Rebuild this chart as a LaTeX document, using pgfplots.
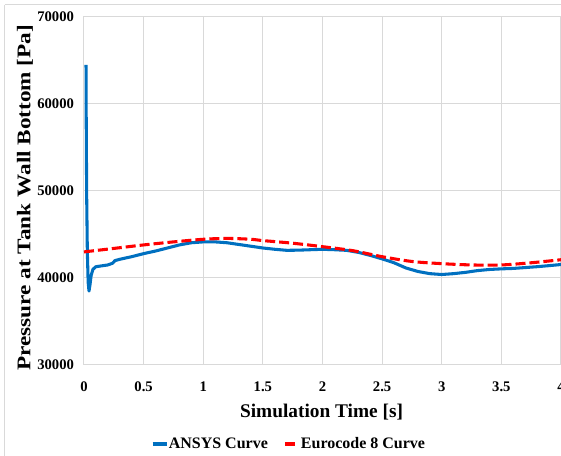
\documentclass[border=0pt]{standalone}
\usepackage{fontspec}
\setmainfont{Liberation Serif}
\usepackage{graphicx}
\usepackage{pgfplots}
\pgfplotsset{compat=1.18}
\definecolor{ansys}{HTML}{0070C0}
\definecolor{euro}{HTML}{FF0000}
\definecolor{gridc}{HTML}{D9D9D9}
\begin{document}
\begin{tikzpicture}
\begin{axis}[
  at={(0,0)}, anchor=south west,
  scale only axis, width=357.75pt, height=261pt,
  xmin=0, xmax=4, ymin=30000, ymax=70000,
  scaled y ticks=false, scaled x ticks=false,
  xtick={0,0.5,...,4}, ytick={30000,40000,...,70000},
  xticklabels={0,0.5,1,1.5,2,2.5,3,3.5,4},
  yticklabels={30000,40000,50000,60000,70000},
  grid=major, major grid style={draw=gridc, line width=0.75pt},
  axis line style={draw=gridc, line width=0.75pt},
  major tick length=0pt,
  tick label style={font=\fontsize{11}{13}\selectfont\bfseries},
  /pgf/number format/assume math mode=true,
  xticklabel style={yshift=-9pt},
  yticklabel style={xshift=-4pt},
  xlabel={Simulation Time [s]},
  ylabel={\scalebox{1.2}[1]{Pressure at Tank Wall Bottom [Pa]}},
  label style={font=\fontsize{14.5}{17}\selectfont\bfseries},
  xlabel style={at={(axis description cs:0.498,-0.135)}, anchor=center},
  ylabel style={at={(axis description cs:-0.1237,0.481)}, anchor=center, rotate=0},
  legend columns=2,
  legend style={draw=none, fill=none, at={(axis description cs:0.14,-0.227)}, anchor=west,
    font=\fontsize{12}{14}\selectfont\bfseries, inner sep=0pt,
    /tikz/every even column/.style={column sep=11pt},
    nodes={inner sep=0.5pt}},
  legend image code/.code={\draw[#1] (0pt,0pt) -- (10.5pt,0pt);},
  clip=true,
]
\addplot[ansys, line width=2.3pt, line join=round] coordinates {
(0.017,64500) (0.018,60000) (0.022,50000) (0.028,43000) (0.035,39500)
(0.042,38500) (0.05,39200) (0.06,40300) (0.075,41000) (0.1,41300)
(0.15,41400) (0.2,41500) (0.24,41700) (0.26,42000) (0.3,42150)
(0.4,42450) (0.5,42800) (0.6,43100) (0.7,43450) (0.8,43800)
(0.9,44050) (1.0,44150) (1.1,44150) (1.2,44050) (1.3,43850)
(1.4,43650) (1.5,43450) (1.6,43300) (1.7,43180) (1.8,43200)
(1.9,43250) (2.0,43300) (2.1,43250) (2.2,43180) (2.3,42950)
(2.4,42600) (2.5,42200) (2.6,41750) (2.7,41150) (2.8,40750)
(2.9,40500) (3.0,40400) (3.1,40500) (3.2,40650) (3.3,40850)
(3.4,40980) (3.5,41050) (3.6,41100) (3.7,41200) (3.8,41300)
(3.9,41420) (4.0,41550)
};
\addlegendentry{ANSYS Curve}
\addplot[euro, line width=2.3pt, dash pattern=on 7.5pt off 3pt, smooth, tension=0.5] coordinates {
(0,43000) (0.25,43400) (0.5,43800) (0.75,44150) (1.0,44450) (1.2,44550)
(1.4,44450) (1.5,44300) (1.75,44000) (2.0,43600) (2.25,43150) (2.5,42450)
(2.75,41900) (3.0,41650) (3.25,41500) (3.5,41500) (3.75,41750) (4.0,42100)
};
\addlegendentry{Eurocode 8 Curve}
\end{axis}
\draw[gridc, line width=0.75pt] (-59.25pt,270pt) -- (400pt,270pt);
\draw[gridc, line width=0.75pt] (-59.25pt,270pt) -- (-59.25pt,-100pt);
\pgfresetboundingbox
\path (-63pt,-68.25pt) rectangle (357.75pt,273.75pt);
\end{tikzpicture}
\end{document}
